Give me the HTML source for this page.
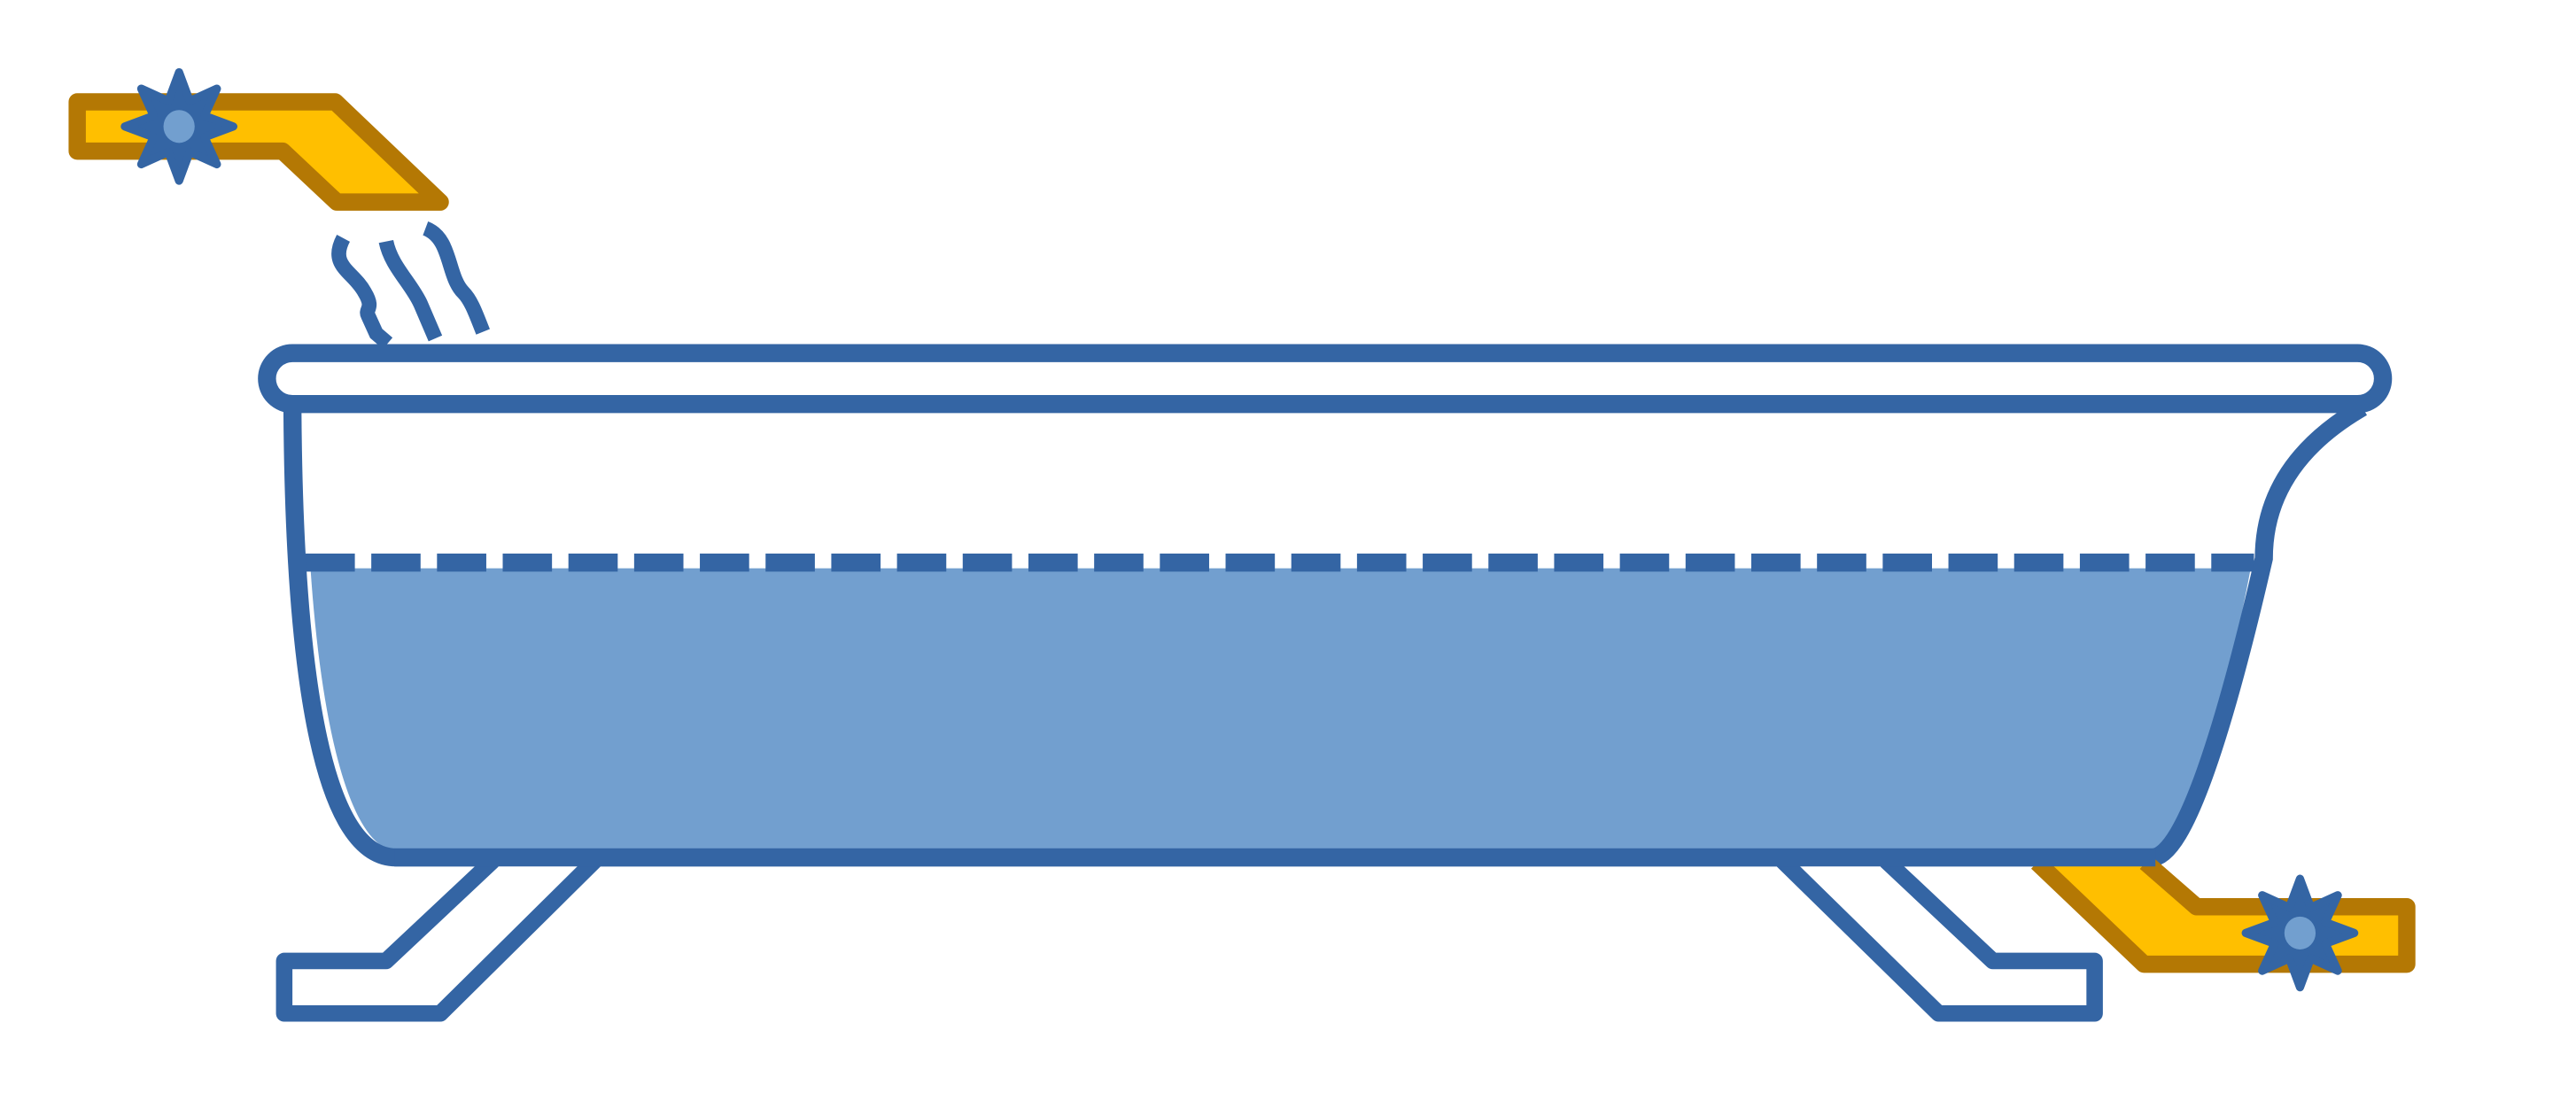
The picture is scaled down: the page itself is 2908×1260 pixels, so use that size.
<!DOCTYPE html>
<html><head><meta charset="utf-8"><style>html,body{margin:0;padding:0;background:#fff}svg{display:block}</style></head>
<body>
<svg width="2908" height="1260" viewBox="0 0 1568 679.4" preserveAspectRatio="none" xmlns="http://www.w3.org/2000/svg">
<defs>
<g id="star">
<path d="M0,-33 L6.5,-15.5 L23,-23 L15.5,-6.5 L33,0 L15.5,6.5 L23,23 L6.5,15.5 L0,33 L-6.5,15.5 L-23,23 L-15.5,6.5 L-33,0 L-15.5,-6.5 L-23,-23 L-6.5,-15.5 Z" fill="#3465a4" stroke="#3465a4" stroke-width="5" stroke-linejoin="round"/>
<ellipse cx="0" cy="0" rx="9.5" ry="10" fill="#729fcf"/>
</g>
</defs>
<path d="M47,62 L204,62 L268,123 L205,123 L172,92 L47,92 Z" fill="#ffbf00" stroke="#b47804" stroke-width="10.5" stroke-linejoin="round"/>
<use href="#star" x="109" y="77"/>
<g fill="none" stroke="#3465a4" stroke-width="9">
<path d="M209,145 C200,162 215,165 222,178 C228,188 222,188 224,192 L229,203 L236,209"/>
<path d="M235,147 C238,162 250,172 256,185 L265,206"/>
<path d="M259,139 C275,145 272,168 282,178 C287,183 290,192 294,202"/>
</g>
<path d="M189,346 L1370,346 C1352,440 1332,512 1308,518 L242,518 C215,518 196,450 189,346 Z" fill="#729fcf"/>
<line x1="186" y1="342.5" x2="1372" y2="342.5" stroke="#3465a4" stroke-width="11" stroke-dasharray="30,10"/>
<path d="M178,248 C179,420 198,522 241,522 L1310,522 C1330,522 1355,440 1378,340 C1378,300 1400,270 1438,248" fill="none" stroke="#3465a4" stroke-width="11"/>
<path d="M178,215 L1435,215 A15.5,15.5 0 0 1 1435,246 L178,246 A15.5,15.5 0 0 1 178,215 Z" fill="#fff" stroke="#3465a4" stroke-width="11"/>
<path d="M300,524 L235,585 L173,585 L173,617 L268,617 L362,524" fill="#fff" stroke="#3465a4" stroke-width="10" stroke-linejoin="round"/>
<path d="M1085,524 L1180,617 L1275,617 L1275,585 L1213,585 L1148,524" fill="#fff" stroke="#3465a4" stroke-width="10" stroke-linejoin="round"/>
<path d="M1240,525 L1305,587 L1465,587 L1465,552 L1337,552 L1306,525" fill="#ffbf00" stroke="#b47804" stroke-width="10.5" stroke-linejoin="round"/>
<line x1="240" y1="522" x2="1312" y2="522" stroke="#3465a4" stroke-width="11"/>
<use href="#star" x="1400" y="568"/>
</svg>
</body></html>
